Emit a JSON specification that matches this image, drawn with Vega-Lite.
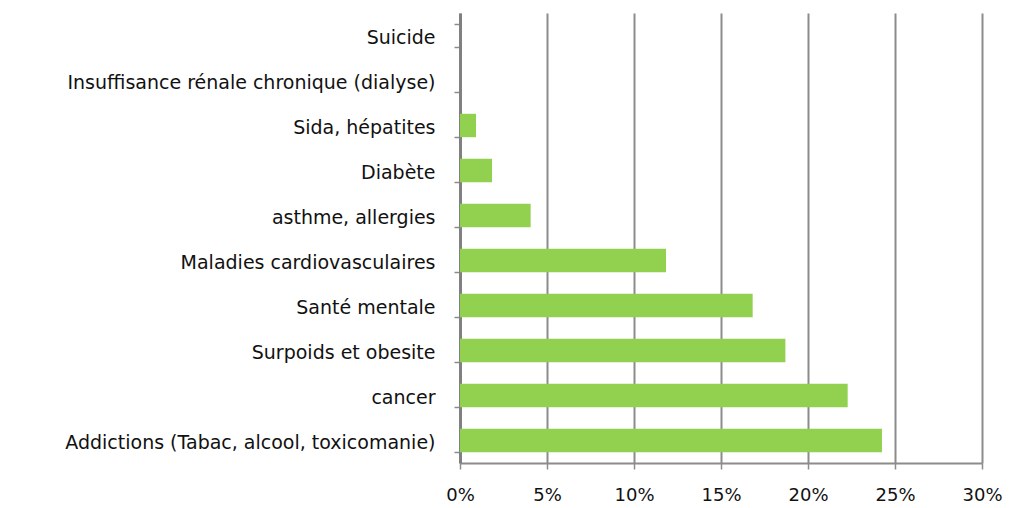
{
  "$schema": "https://vega.github.io/schema/vega-lite/v6.json",
  "autosize": "none",
  "width": 522,
  "height": 450,
  "padding": {"left": 460, "top": 13, "right": 27, "bottom": 45},
  "background": "white",
  "data": {"values": [
    {"cat": "Suicide", "val": 0},
    {"cat": "Insuffisance rénale chronique (dialyse)", "val": 0},
    {"cat": "Sida, hépatites", "val": 0.0092},
    {"cat": "Diabète", "val": 0.0184},
    {"cat": "asthme, allergies", "val": 0.0406},
    {"cat": "Maladies cardiovasculaires", "val": 0.1184},
    {"cat": "Santé mentale", "val": 0.1682},
    {"cat": "Surpoids et obesite", "val": 0.187},
    {"cat": "cancer", "val": 0.2228},
    {"cat": "Addictions (Tabac,  alcool, toxicomanie)", "val": 0.2425}
  ]},
  "mark": {"type": "bar", "color": "#92d050"},
  "encoding": {
    "y": {
      "field": "cat", "type": "nominal", "sort": null,
      "scale": {"paddingInner": 0.48, "paddingOuter": 0.24},
      "axis": {
        "title": null, "tickBand": "extent", "labelLimit": 500,
        "labelFont": "DejaVu Sans", "labelFontSize": 19, "labelColor": "#111",
        "labelPadding": 19, "labelOffset": 2, "tickSize": 6, "tickColor": "#8c8c8c", "tickWidth": 1.5,
        "domainColor": "#808080", "domainWidth": 3, "grid": false
      }
    },
    "x": {
      "field": "val", "type": "quantitative",
      "scale": {"domain": [0, 0.3], "nice": false},
      "axis": {
        "title": null, "format": ".0%", "values": [0, 0.05, 0.1, 0.15, 0.2, 0.25, 0.3],
        "labelFlush": false,
        "labelFont": "DejaVu Sans", "labelFontSize": 18, "labelColor": "#111",
        "labelPadding": 17, "tickSize": 6, "tickColor": "#8c8c8c", "tickWidth": 1.5,
        "domainColor": "#8c8c8c", "domainWidth": 2,
        "grid": true, "gridColor": "#8c8c8c", "gridWidth": 2, "gridOpacity": 1
      }
    }
  },
  "config": {"view": {"stroke": null}}
}
